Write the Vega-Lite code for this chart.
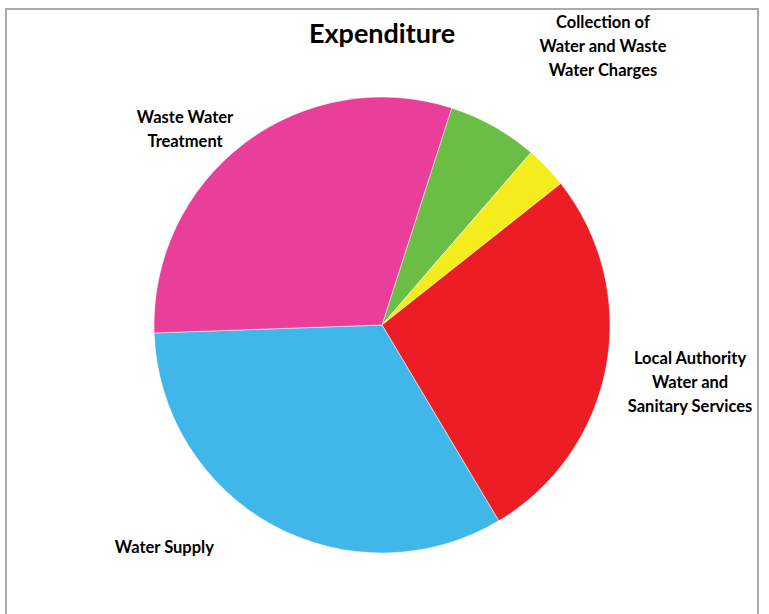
{
  "$schema": "https://vega.github.io/schema/vega-lite/v6.json",
  "width": 752,
  "height": 632,
  "autosize": {"type": "none"},
  "padding": {"left": 6, "top": 9, "right": 11, "bottom": 0},
  "background": "white",
  "view": {"stroke": "#ababab", "strokeWidth": 2},
  "title": {
    "text": "Expenditure",
    "font": "Lato",
    "fontSize": 27,
    "fontWeight": "bold",
    "color": "#000000",
    "anchor": "middle",
    "orient": "top",
    "baseline": "alphabetic",
    "offset": -61
  },
  "data": {
    "values": [
      {"category": "Collection of Water and Waste Water Charges", "label": "Collection of|Water and Waste|Water Charges", "share": 6.4, "order": 1},
      {"category": "Other", "label": "", "share": 3.0, "order": 2},
      {"category": "Local Authority Water and Sanitary Services", "label": "Local Authority|Water and|Sanitary Services", "share": 27.1, "order": 3},
      {"category": "Water Supply", "label": "Water Supply", "share": 33.0, "order": 4},
      {"category": "Waste Water Treatment", "label": "Waste Water|Treatment", "share": 30.5, "order": 5}
    ]
  },
  "encoding": {
    "theta": {
      "field": "share",
      "type": "quantitative",
      "stack": true,
      "scale": {"range": [0.3107, 6.5939]}
    },
    "order": {"field": "order", "type": "quantitative"}
  },
  "layer": [
    {
      "mark": {"type": "arc", "outerRadius": 228, "stroke": "#ffffff", "strokeWidth": 1, "strokeOpacity": 0.5},
      "encoding": {
        "color": {
          "field": "category",
          "type": "nominal",
          "legend": null,
          "scale": {
            "domain": ["Collection of Water and Waste Water Charges", "Other", "Local Authority Water and Sanitary Services", "Water Supply", "Waste Water Treatment"],
            "range": ["#6abd45", "#f4ec1d", "#ec1d24", "#40b7e8", "#e93e9a"]
          }
        }
      }
    },
    {
      "mark": {"type": "text", "radius": 300, "font": "Lato", "fontSize": 16.5, "fontWeight": "bold", "lineBreak": "|", "lineHeight": 24, "color": "#000000", "align": "center", "dx": 74, "dy": -40},
      "encoding": {
        "text": {"field": "label", "type": "nominal"},
        "opacity": {"condition": {"test": "datum.order === 1", "value": 1}, "value": 0}
      }
    },
    {
      "mark": {"type": "text", "radius": 300, "font": "Lato", "fontSize": 16.5, "fontWeight": "bold", "lineBreak": "|", "lineHeight": 24, "color": "#000000", "align": "center", "dx": 13, "dy": -20},
      "encoding": {
        "text": {"field": "label", "type": "nominal"},
        "opacity": {"condition": {"test": "datum.order === 3", "value": 1}, "value": 0}
      }
    },
    {
      "mark": {"type": "text", "radius": 300, "font": "Lato", "fontSize": 16.5, "fontWeight": "bold", "lineBreak": "|", "lineHeight": 24, "color": "#000000", "align": "center", "dx": -74, "dy": -40},
      "encoding": {
        "text": {"field": "label", "type": "nominal"},
        "opacity": {"condition": {"test": "datum.order === 4", "value": 1}, "value": 0}
      }
    },
    {
      "mark": {"type": "text", "radius": 300, "font": "Lato", "fontSize": 16.5, "fontWeight": "bold", "lineBreak": "|", "lineHeight": 24, "color": "#000000", "align": "center", "dx": -16, "dy": 32},
      "encoding": {
        "text": {"field": "label", "type": "nominal"},
        "opacity": {"condition": {"test": "datum.order === 5", "value": 1}, "value": 0}
      }
    }
  ]
}
